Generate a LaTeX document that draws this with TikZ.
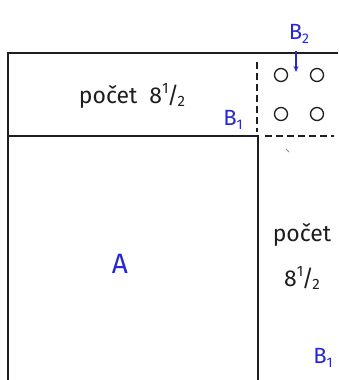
\documentclass[tikz,border=0pt]{standalone}
\usepackage{fontspec}
\setmainfont{Fira Sans}
\usetikzlibrary{arrows.meta}
\newcommand{\myhalf}{\raisebox{0.42em}{\fontsize{15}{15}\selectfont 1}\kern-1.5pt{\fontsize{23}{23}\selectfont /}\kern-1.5pt\raisebox{-0.12em}{\fontsize{15}{15}\selectfont 2}}
\newcommand{\mysub}[1]{\raisebox{-0.4ex}{\fontsize{14}{14}\selectfont #1}}
\begin{document}
\begin{tikzpicture}[x=1pt,y=-1pt]
\definecolor{pen}{RGB}{30,30,30}
\definecolor{ink}{RGB}{40,40,205}
\tikzset{
  frame/.style={draw=pen, line width=1.3pt},
  dashline/.style={draw=pen, line width=1.3pt, dash pattern=on 7pt off 4pt},
  hole/.style={circle, draw=pen, line width=1.3pt, minimum size=13pt, inner sep=0pt},
  handtext/.style={text=pen, font=\fontsize{23}{27}\selectfont, inner sep=1pt},
  blue/.style={text=ink, font=\fontsize{22}{26}\selectfont, inner sep=1pt}
}
\fill[white] (0,0) rectangle (338,380);
\useasboundingbox (0,0) rectangle (338,380);
% frame
\draw[frame] (8,380) -- (8,53) -- (338,53);
\draw[frame] (8,136) -- (258,136) -- (258,380);
\draw[dashline] (257,62) -- (257,132);
\draw[dashline] (265,136) -- (334,136);
% holes
\node[hole] (h1) at (281,75) {};
\node[hole] (h2) at (317,75) {};
\node[hole] (h3) at (281,114) {};
\node[hole] (h4) at (317,114) {};
% stray mark
\draw[pen!50, line width=0.8pt] (286,149) -- (289,152);
% labels
\node[handtext] (t1) at (132,96) {počet\hspace{12pt}8\myhalf};
\node[blue] (b1a) at (233,120) {B\mysub{1}};
\node[blue] (b2) at (299,34) {B\mysub{2}};
\coordinate (b2tip) at (296,72);
\draw[ink, line width=1.1pt, -{Stealth[length=6pt,width=5pt]}] (296,51) -- (b2tip);
\node[blue, font=\fontsize{28}{32}\selectfont] (a) at (120,264) {A};
\node[handtext] (t2) at (302,235) {počet};
\node[handtext] (t3) at (302,278) {8\myhalf};
\node[blue] (b1b) at (323,358) {B\mysub{1}};
\end{tikzpicture}
\end{document}
